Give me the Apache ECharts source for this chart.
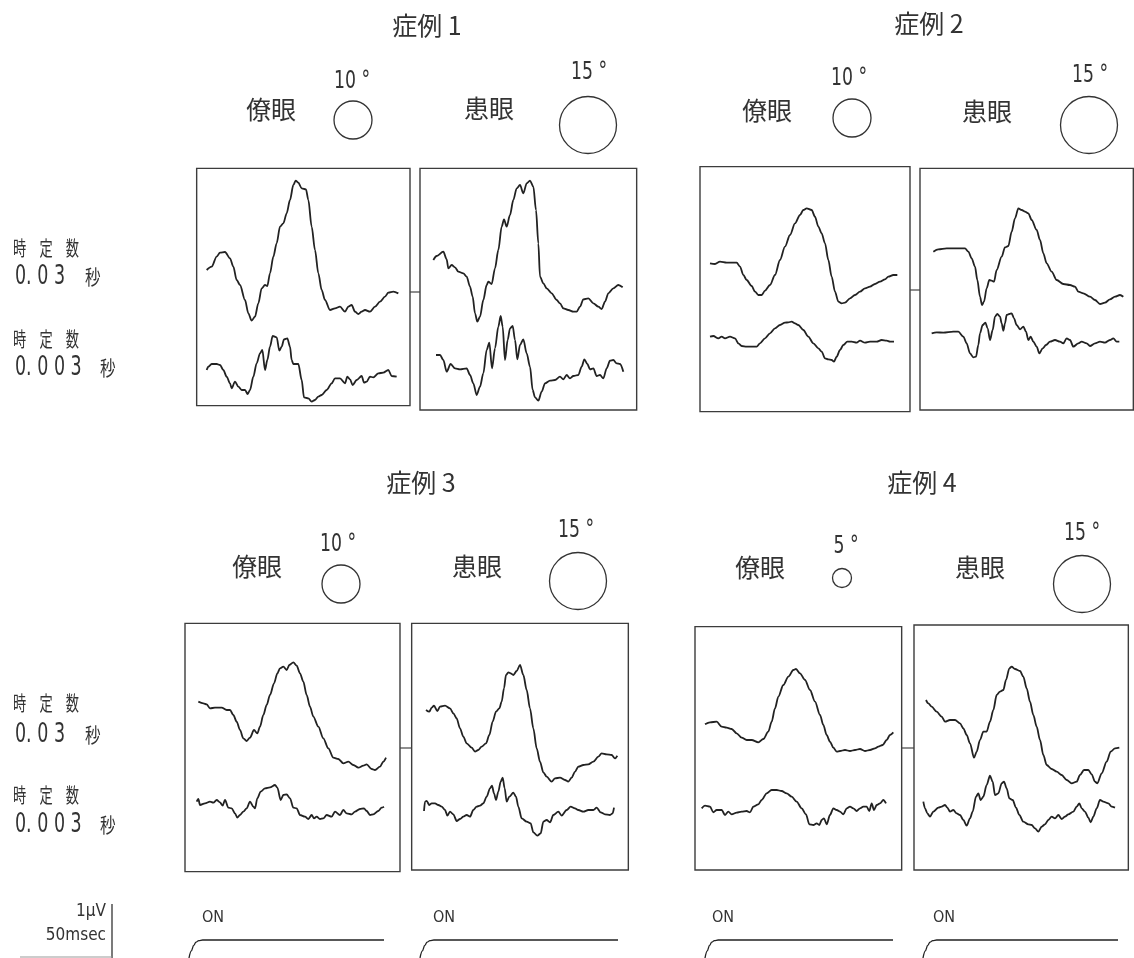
<!DOCTYPE html>
<html>
<head>
<meta charset="utf-8">
<title>症例 1-4</title>
<script src="https://cdn.jsdelivr.net/npm/echarts@6/dist/echarts.min.js"></script>
<style>
  html, body { margin: 0; padding: 0; background: #fff; }
  #mainChart { width: 1134px; height: 958px; }
</style>
</head>
<body>
<div id="mainChart"></div>
<script>
const caseTitles = ['症例 1', '症例 2', '症例 3', '症例 4']
const eyeLabels = ['僚眼', '患眼']
const stimulusDeg = [[10, 15], [10, 15], [10, 15], [5, 15]]
const timeConstLabel = '時　定　数'
const timeConstValues = ['0. 0 3', '0. 0 0 3']
const timeConstUnit = '秒'
const scaleLabels = ['1μV', '50msec']
const onLabel = 'ON'

// traces read off 3x enlargements of the figure (x to the right, y downward)
// "slow" = time constant 0.03 s (upper trace), "fast" = 0.003 s (lower trace)
const c1FellowSlow = [[80,330],[95,320],[110,290],[120,278],[135,276],[150,295],[160,320],[170,360],[180,375],[195,420],[205,460],[215,482],[225,470],[235,430],[245,385],[255,375],[262,378],[270,340],[280,290],[290,250],[300,200],[310,190],[320,160],[330,120],[340,75],[347,62],[355,68],[365,85],[378,88],[385,120],[395,200],[405,270],[415,340],[425,390],[435,420],[450,450],[465,445],[480,440],[495,455],[505,440],[515,435],[525,455],[535,462],[545,455],[555,450],[570,455],[585,440],[600,425],[615,410],[625,398],[640,395],[655,400]]
const c1FellowFast = [[80,630],[85,620],[95,612],[110,612],[120,615],[130,630],[140,650],[150,670],[155,685],[165,665],[175,680],[185,690],[195,690],[203,702],[210,690],[220,650],[230,610],[240,580],[247,570],[255,630],[262,600],[270,560],[278,528],[290,532],[298,572],[305,560],[312,538],[322,535],[330,560],[335,600],[340,612],[355,612],[365,660],[372,712],[385,715],[395,725],[405,720],[415,710],[425,705],[440,690],[455,670],[465,655],[480,655],[495,670],[502,650],[510,658],[518,675],[530,660],[545,648],[552,668],[560,665],[570,650],[580,652],[595,640],[610,638],[625,630],[635,648],[650,650]]
const c1AffectedSlow = [[760,300],[770,288],[790,275],[800,298],[805,325],[815,315],[825,322],[835,335],[850,340],[860,350],[870,380],[878,410],[885,460],[892,485],[900,470],[910,420],[920,375],[925,365],[935,372],[945,325],[955,270],[965,200],[972,178],[980,200],[990,165],[1000,120],[1010,85],[1020,75],[1030,100],[1040,70],[1050,62],[1060,80],[1068,150],[1075,250],[1080,350],[1090,370],[1100,385],[1115,400],[1130,420],[1140,430],[1150,445],[1165,450],[1180,455],[1190,455],[1200,440],[1210,418],[1225,415],[1240,430],[1255,440],[1265,447],[1275,425],[1285,400],[1300,385],[1315,375],[1328,382]]
const c1AffectedFast = [[768,585],[780,585],[790,600],[800,635],[812,612],[825,625],[840,628],[860,625],[870,645],[880,670],[890,705],[900,680],[910,640],[920,570],[928,548],[936,625],[945,565],[955,500],[962,468],[968,500],[975,600],[983,540],[990,505],[998,498],[1005,540],[1012,598],[1020,555],[1030,538],[1040,580],[1050,620],[1058,690],[1065,712],[1075,722],[1085,695],[1095,670],[1110,662],[1125,660],[1140,650],[1150,658],[1160,645],[1170,655],[1180,648],[1195,645],[1205,620],[1213,598],[1222,612],[1230,628],[1240,625],[1250,648],[1260,645],[1270,655],[1280,625],[1290,602],[1300,600],[1310,610],[1320,612],[1330,635]]

const c2FellowSlow = [[60,310],[75,312],[90,305],[110,308],[140,308],[150,320],[160,345],[170,360],[185,378],[195,395],[205,405],[215,405],[225,392],[240,375],[255,345],[270,300],[285,260],[300,225],[315,190],[330,165],[340,150],[350,145],[365,150],[375,170],[385,200],[395,220],[405,250],[415,300],[425,350],[435,395],[445,425],[455,430],[465,428],[480,415],[495,405],[510,395],[525,385],[540,380],[555,372],[570,365],[585,358],[595,350],[610,345],[622,345]]
const c2FellowFast = [[60,530],[70,528],[85,535],[95,530],[105,535],[120,530],[135,535],[145,550],[155,558],[170,560],[185,560],[200,560],[210,550],[225,535],[240,520],[255,505],[270,495],[285,488],[295,487],[305,485],[315,490],[325,495],[340,510],[355,530],[370,550],[385,565],[395,575],[405,595],[415,598],[425,600],[432,605],[440,590],[450,570],[460,555],[472,545],[485,545],[500,548],[510,542],[525,548],[540,545],[560,545],[575,540],[590,542],[600,545],[612,545]]
const c2AffectedSlow = [[730,275],[745,268],[770,265],[800,265],[825,265],[835,275],[845,295],[855,320],[862,360],[870,410],[876,435],[882,425],[890,385],[898,360],[905,362],[912,365],[920,330],[935,290],[945,262],[955,258],[965,215],[975,175],[985,145],[995,150],[1005,155],[1015,160],[1025,180],[1040,210],[1050,240],[1060,280],[1070,310],[1085,335],[1100,360],[1120,372],[1140,375],[1155,380],[1165,395],[1180,400],[1200,410],[1215,420],[1230,432],[1245,428],[1260,418],[1275,410],[1290,405],[1300,410]]
const c2AffectedFast = [[725,520],[740,517],[760,518],[790,515],[805,515],[820,530],[830,550],[840,580],[850,592],[858,590],[865,555],[870,520],[878,495],[886,488],[893,505],[900,540],[908,510],[915,470],[922,462],[930,470],[935,490],[940,512],[945,490],[950,465],[958,462],[965,460],[972,475],[980,495],[990,508],[1000,500],[1008,515],[1015,540],[1022,530],[1030,545],[1040,560],[1048,580],[1058,565],[1068,555],[1080,545],[1095,540],[1110,545],[1120,550],[1130,535],[1140,540],[1150,560],[1165,550],[1175,545],[1190,550],[1200,558],[1215,550],[1230,545],[1245,548],[1260,540],[1270,535],[1280,545],[1288,545]]

const c3FellowSlow = [[55,260],[70,265],[80,268],[90,280],[105,278],[125,278],[140,285],[150,285],[160,300],[170,320],[180,345],[190,370],[200,378],[210,368],[222,345],[232,355],[240,335],[250,300],[260,270],[270,240],[282,205],[292,175],[300,160],[310,155],[320,165],[328,150],[340,142],[350,152],[360,175],[370,200],[380,240],[390,275],[400,305],[415,335],[430,370],[445,400],[460,428],[475,432],[490,445],[505,440],[520,450],[535,458],[550,452],[560,448],[575,462],[585,465],[600,455],[610,440],[618,428]]
const c3FellowFast = [[50,560],[55,552],[60,570],[75,565],[90,560],[100,563],[110,555],[120,562],[128,572],[135,555],[145,578],[155,580],[165,595],[172,608],[180,600],[190,590],[200,580],[210,560],[220,575],[225,580],[232,550],[242,530],[255,520],[270,517],[285,510],[292,518],[302,555],[310,540],[320,538],[330,550],[340,578],[350,580],[360,600],[375,605],[385,612],[395,600],[402,610],[410,605],[420,612],[430,610],[440,600],[455,605],[465,590],[480,600],[490,585],[500,595],[515,598],[525,590],[540,582],[552,580],[560,588],[570,600],[580,598],[595,588],[605,578],[612,575]]
const c3AffectedSlow = [[738,285],[748,290],[755,278],[762,272],[772,288],[780,275],[795,272],[810,280],[820,295],[830,310],[840,340],[850,365],[860,385],[875,398],[885,410],[895,405],[905,395],[918,385],[928,360],[938,320],[948,290],[958,280],[965,260],[972,220],[978,180],[985,172],[992,175],[1000,180],[1010,168],[1020,150],[1030,180],[1040,225],[1050,280],[1060,340],[1070,400],[1080,440],[1090,472],[1100,485],[1115,500],[1125,490],[1140,488],[1155,495],[1165,500],[1175,488],[1185,470],[1195,455],[1210,450],[1225,448],[1240,440],[1255,425],[1265,415],[1280,418],[1295,420],[1305,430],[1312,422]]
const c3AffectedFast = [[732,588],[735,560],[740,558],[748,570],[755,565],[765,565],[775,570],[785,575],[795,585],[802,602],[810,590],[820,598],[830,618],[840,612],[850,605],[860,600],[870,605],[880,585],[890,575],[900,572],[910,565],[920,545],[930,520],[936,512],[942,535],[948,555],[955,530],[962,500],[968,488],[974,520],[980,560],[988,545],[1000,533],[1008,545],[1015,575],[1025,610],[1040,620],[1052,625],[1060,652],[1072,662],[1082,655],[1090,620],[1100,615],[1110,622],[1120,600],[1135,590],[1145,602],[1160,585],[1172,575],[1185,580],[1195,585],[1210,590],[1225,585],[1240,585],[1250,578],[1262,592],[1275,598],[1290,600],[1298,595],[1302,578]]

const c4FellowSlow = [[45,328],[60,322],[80,320],[95,335],[110,338],[125,342],[140,355],[155,368],[170,375],[185,375],[205,382],[220,372],[235,350],[245,320],[255,280],[265,245],[280,210],[295,185],[310,165],[318,162],[330,175],[345,195],[360,225],[375,260],[390,300],[400,330],[410,360],[420,380],[430,398],[440,410],[450,408],[465,405],[480,408],[495,405],[510,402],[525,408],[540,405],[555,400],[565,395],[578,390],[590,375],[600,360],[610,352]]
const c4FellowFast = [[35,580],[45,572],[60,575],[70,592],[80,585],[95,585],[105,600],[115,590],[125,598],[140,593],[155,590],[170,588],[180,592],[190,575],[205,568],[215,555],[230,535],[245,525],[260,525],[275,528],[290,535],[305,545],[320,560],[335,580],[348,598],[358,628],[370,630],[380,625],[388,630],[395,615],[402,610],[410,628],[420,600],[430,580],[440,585],[450,590],[460,598],[470,580],[480,575],[490,580],[500,588],[510,580],[520,575],[530,575],[538,588],[545,565],[552,585],[560,570],[570,565],[580,555],[588,565]]
const c4AffectedSlow = [[708,255],[715,265],[725,275],[740,290],[755,305],[765,320],[780,315],[795,315],[810,325],[820,340],[830,360],[840,385],[852,428],[860,410],[870,375],[880,350],[890,350],[900,320],[910,285],[920,240],[930,230],[940,225],[948,195],[958,160],[965,155],[975,162],[990,168],[1000,185],[1010,220],[1020,260],[1030,300],[1040,335],[1050,375],[1060,420],[1070,450],[1085,462],[1100,470],[1115,480],[1130,495],[1145,505],[1160,500],[1170,480],[1182,465],[1195,465],[1205,478],[1215,500],[1222,505],[1235,475],[1250,440],[1262,410],[1275,400],[1288,398]]
const c4AffectedFast = [[700,560],[705,580],[712,595],[720,605],[730,590],[745,578],[755,575],[765,570],[772,578],[780,590],[790,585],[800,595],[810,600],[820,615],[830,632],[840,610],[848,590],[858,545],[865,535],[872,555],[880,545],[890,510],[900,482],[908,500],[915,540],[925,535],[935,505],[942,500],[950,520],[958,550],[968,555],[978,578],[988,600],[1000,620],[1015,628],[1025,630],[1035,640],[1045,650],[1055,635],[1065,628],[1075,615],[1085,605],[1095,610],[1105,600],[1115,612],[1125,605],[1135,598],[1150,590],[1160,575],[1168,565],[1175,580],[1185,590],[1195,608],[1202,622],[1210,605],[1220,580],[1230,555],[1240,560],[1255,565],[1265,575],[1275,578]]

// stimulus marker (percent of sweep, relative level)
const onStep = [[0,0],[1.2,0.4],[2.4,0.7],[3.6,0.88],[5,0.97],[7,1],[100,1]]

// ---- layout ----
const INK = '#222'
const NARROW = '"Liberation Sans Narrow", "DejaVu Sans Condensed", "Noto Sans", sans-serif'
const CJK = '"Noto Sans CJK JP", "Noto Sans CJK SC", sans-serif'

// crop = top-left of the 3x enlargement, frame = box edges inside it [x0, x1, y0, y1]
const panels = [
  { crop: [180, 160], frame: [50, 690, 25, 737], slow: c1FellowSlow, fast: c1FellowFast },
  { crop: [180, 160], frame: [720, 1370, 25, 750], slow: c1AffectedSlow, fast: c1AffectedFast },
  { crop: [690, 160], frame: [30, 660, 20, 755], slow: c2FellowSlow, fast: c2FellowFast },
  { crop: [690, 160], frame: [690, 1330, 25, 750], slow: c2AffectedSlow, fast: c2AffectedFast },
  { crop: [180, 615], frame: [15, 660, 25, 770], slow: c3FellowSlow, fast: c3FellowFast },
  { crop: [180, 615], frame: [695, 1345, 25, 765], slow: c3AffectedSlow, fast: c3AffectedFast },
  { crop: [690, 615], frame: [15, 635, 35, 765], slow: c4FellowSlow, fast: c4FellowFast },
  { crop: [690, 615], frame: [672, 1315, 30, 765], slow: c4AffectedSlow, fast: c4AffectedFast }
]
const connectorY = [292, 290, 748, 748]

const headers = [
  { title: [427, 25], eyes: [[271, 109], [489, 108]], deg: [[352, 82], [589, 73]], circ: [[353, 120], [588, 125]] },
  { title: [929, 23], eyes: [[767, 110], [987, 111]], deg: [[849, 79], [1090, 76]], circ: [[852, 118], [1089, 125]] },
  { title: [421, 482], eyes: [[257, 566], [477, 566]], deg: [[338, 545], [576, 531]], circ: [[341, 584], [578, 581]] },
  { title: [922, 482], eyes: [[760, 567], [980, 567]], deg: [[846, 547], [1082, 534]], circ: [[842, 578], [1082, 584]] }
]
const labelRows = [[248, 277, 339, 368], [703, 735, 795, 825]]
const unitX = [85, 100]
const stimuli = [[189, 384], [420, 618], [705, 893], [923, 1118]]
const onTextX = [202, 433, 712, 933]

const chart = echarts.init(document.getElementById('mainChart'))

const grid = []
const xAxis = []
const yAxis = []
const series = []

panels.forEach((p, i) => {
  const [ox, oy] = p.crop
  const [x0, x1, y0, y1] = p.frame
  grid.push({
    left: ox + x0 / 3, top: oy + y0 / 3,
    width: (x1 - x0) / 3, height: (y1 - y0) / 3,
    show: true, borderColor: '#3c3c3c', borderWidth: 1.4,
    backgroundColor: 'transparent'
  })
  xAxis.push({ type: 'value', gridIndex: i, min: x0, max: x1, show: false })
  yAxis.push({ type: 'value', gridIndex: i, min: y0, max: y1, inverse: true, show: false })
  ;[p.slow, p.fast].forEach(d => {
    series.push({
      type: 'line', xAxisIndex: i, yAxisIndex: i, data: d,
      showSymbol: false, smooth: 0.3, smoothMonotone: 'x', clip: false,
      lineStyle: { color: INK, width: 1.8 }, silent: true
    })
  })
})

stimuli.forEach((s, k) => {
  const gi = panels.length + k
  grid.push({ left: s[0], top: 940, width: s[1] - s[0], height: 18, show: false })
  xAxis.push({ type: 'value', gridIndex: gi, min: 0, max: 100, show: false })
  yAxis.push({ type: 'value', gridIndex: gi, min: 0, max: 1, show: false })
  series.push({
    type: 'line', xAxisIndex: gi, yAxisIndex: gi, data: onStep,
    showSymbol: false, smooth: 0.4, smoothMonotone: 'x', clip: false,
    lineStyle: { color: INK, width: 1.3 }, silent: true
  })
})

function text(str, x, y, size, family, align, extra) {
  return Object.assign({
    type: 'text', x, y, silent: true,
    style: {
      text: str, fontSize: size, fontFamily: family, fill: '#333',
      align: align || 'center', verticalAlign: 'middle'
    }
  }, extra || {})
}

const graphic = []

headers.forEach((h, c) => {
  graphic.push(text(caseTitles[c], h.title[0], h.title[1], 25, CJK))
  eyeLabels.forEach((lab, e) => {
    graphic.push(text(lab, h.eyes[e][0], h.eyes[e][1], 25, CJK))
    graphic.push(text(stimulusDeg[c][e] + ' °', h.deg[e][0], h.deg[e][1], 24, NARROW, 'center', { scaleX: 0.8 }))
    graphic.push({
      type: 'circle', silent: true,
      shape: { cx: h.circ[e][0], cy: h.circ[e][1], r: stimulusDeg[c][e] * 1.9 },
      style: { fill: 'none', stroke: '#333', lineWidth: 1.3 }
    })
  })
})

labelRows.forEach(rows => {
  timeConstValues.forEach((v, k) => {
    graphic.push(text(timeConstLabel, 13, rows[k * 2], 20, CJK, 'left', { scaleX: 0.66 }))
    graphic.push(text(v, 15, rows[k * 2 + 1], 27, NARROW, 'left', { scaleX: 0.72 }))
    graphic.push(text(timeConstUnit, unitX[k], rows[k * 2 + 1], 20, CJK, 'left', { scaleX: 0.78 }))
  })
})

for (let c = 0; c < 4; c++) {
  const a = panels[c * 2].crop[0] + panels[c * 2].frame[1] / 3
  const b = panels[c * 2 + 1].crop[0] + panels[c * 2 + 1].frame[0] / 3
  graphic.push({
    type: 'line', silent: true,
    shape: { x1: a, y1: connectorY[c], x2: b, y2: connectorY[c] },
    style: { stroke: '#444', lineWidth: 1.2 }
  })
}

onTextX.forEach(x => graphic.push(text(onLabel, x, 918, 16, NARROW, 'left')))

// calibration bar
graphic.push(text(scaleLabels[0], 106, 912, 17, NARROW, 'right'))
graphic.push(text(scaleLabels[1], 106, 936, 17, NARROW, 'right'))
graphic.push({ type: 'line', silent: true, shape: { x1: 112, y1: 904, x2: 112, y2: 958 }, style: { stroke: '#333', lineWidth: 1.3 } })
graphic.push({ type: 'line', silent: true, shape: { x1: 20, y1: 957, x2: 112, y2: 957 }, style: { stroke: '#999', lineWidth: 1 } })

chart.setOption({
  animation: false,
  backgroundColor: '#fff',
  grid, xAxis, yAxis, series, graphic
})
</script>
</body>
</html>
